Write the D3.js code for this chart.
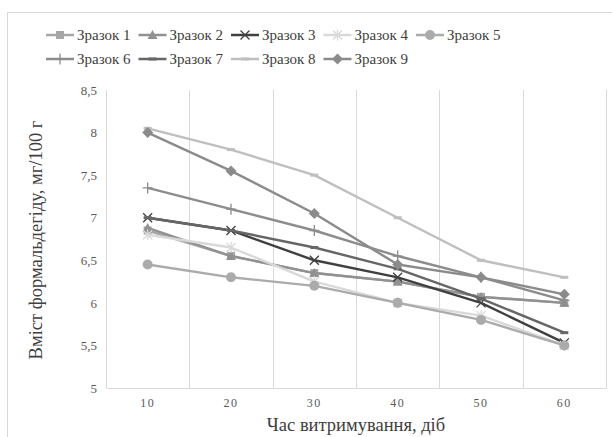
<!DOCTYPE html>
<html>
<head>
<meta charset="utf-8">
<script src="https://cdn.jsdelivr.net/npm/d3@7"></script>
<style>
  html, body { margin: 0; padding: 0; background: #fff; }
</style>
</head>
<body>
<svg id="chart" width="612" height="437"></svg>
<script>
// Storage time (days)
const categories = [10, 20, 30, 40, 50, 60];
const seriesNames = ["Зразок 1", "Зразок 2", "Зразок 3", "Зразок 4", "Зразок 5",
                     "Зразок 6", "Зразок 7", "Зразок 8", "Зразок 9"];
// Formaldehyde content, mg/100 g
const sample1 = [6.85, 6.55, 6.35, 6.25, 6.07, 6.0];
const sample2 = [6.88, 6.55, 6.35, 6.25, 6.07, 6.0];
const sample3 = [7.0, 6.85, 6.5, 6.3, 6.0, 5.53];
const sample4 = [6.8, 6.65, 6.25, 6.0, 5.85, 5.5];
const sample5 = [6.45, 6.3, 6.2, 6.0, 5.8, 5.5];
const sample6 = [7.35, 7.1, 6.85, 6.55, 6.3, 6.03];
const sample7 = [7.0, 6.85, 6.65, 6.4, 6.05, 5.65];
const sample8 = [8.05, 7.8, 7.5, 7.0, 6.5, 6.3];
const sample9 = [8.0, 7.55, 7.05, 6.45, 6.3, 6.1];
const yTicks = [5, 5.5, 6, 6.5, 7, 7.5, 8, 8.5];

const seriesValues = [sample1, sample2, sample3, sample4, sample5, sample6, sample7, sample8, sample9];
const colors = ["#a6a6a6", "#919191", "#404040", "#d9d9d9", "#ababab",
                "#8c8c8c", "#666666", "#bfbfbf", "#8b8b8b"];
const markers = ["square", "triangle", "x", "star", "circle", "plus", "dash", "dash", "diamond"];
const FONT = '"Liberation Serif"';

const svg = d3.select("#chart");

// chart frame
svg.append("rect").attr("x", 7.5).attr("y", 12.5).attr("width", 620).attr("height", 440)
  .attr("fill", "none").attr("stroke", "#d9d9d9").attr("stroke-width", 1);

const x = d3.scaleBand().domain(categories).range([106, 606]);
const y = d3.scaleLinear().domain([5, 8.5]).range([388, 90]);
const cx = d => x(d) + x.bandwidth() / 2;

// vertical gridlines at category boundaries
const bounds = categories.map(c => x(c)).concat([x.range()[1]]);
svg.append("g").selectAll("line").data(bounds).join("line")
  .attr("x1", d => Math.round(d) + 0.5).attr("x2", d => Math.round(d) + 0.5)
  .attr("y1", y(8.5)).attr("y2", y(5))
  .attr("stroke", "#d9d9d9").attr("stroke-width", 1);

// x axis
const xAxis = svg.append("g").attr("transform", `translate(0,${y(5)})`)
  .call(d3.axisBottom(x).tickSize(0).tickPadding(10));
xAxis.attr("font-family", null).attr("font-size", null);
xAxis.select(".domain").attr("stroke", "#d9d9d9");
xAxis.selectAll("text").style("font-family", FONT).style("font-size", "12px")
  .attr("fill", "#595959").style("letter-spacing", "1.5px");

// y axis
const fmt = v => Number.isInteger(v) ? String(v) : String(v).replace(".", ",");
const yAxis = svg.append("g").attr("transform", `translate(106,0)`)
  .call(d3.axisLeft(y).tickValues(yTicks).tickFormat(fmt).tickSize(0).tickPadding(9));
yAxis.attr("font-family", null).attr("font-size", null);
yAxis.select(".domain").remove();
yAxis.selectAll("text").style("font-family", FONT).style("font-size", "13px").attr("fill", "#595959");

// axis titles
svg.append("text").attr("x", 356).attr("y", 431).attr("text-anchor", "middle")
  .style("font-family", FONT).style("font-size", "18.5px").attr("fill", "#404040")
  .text("Час витримування, діб");
svg.append("text").attr("transform", "translate(42,240) rotate(-90)")
  .attr("text-anchor", "middle").style("font-family", FONT).style("font-size", "18.5px")
  .attr("fill", "#404040").text("Вміст формальдегіду, мг/100 г");

// marker drawing
function drawMarker(g, type, color, px, py) {
  const s = 4.5;
  switch (type) {
    case "square":
      g.append("rect").attr("x", px - 4).attr("y", py - 4).attr("width", 8).attr("height", 8).attr("fill", color);
      break;
    case "triangle":
      g.append("path").attr("d", `M${px},${py - 5}L${px + 5},${py + 4}L${px - 5},${py + 4}Z`).attr("fill", color);
      break;
    case "x":
      g.append("path").attr("d", `M${px - s},${py - s}L${px + s},${py + s}M${px - s},${py + s}L${px + s},${py - s}`)
        .attr("stroke", color).attr("stroke-width", 1.3).attr("fill", "none");
      break;
    case "star":
      g.append("path").attr("d", `M${px - s},${py - s}L${px + s},${py + s}M${px - s},${py + s}L${px + s},${py - s}M${px},${py - 5.5}L${px},${py + 5.5}`)
        .attr("stroke", color).attr("stroke-width", 1.3).attr("fill", "none");
      break;
    case "circle":
      g.append("circle").attr("cx", px).attr("cy", py).attr("r", 5).attr("fill", color);
      break;
    case "plus":
      g.append("path").attr("d", `M${px - 5},${py}L${px + 5},${py}M${px},${py - 5.5}L${px},${py + 5.5}`)
        .attr("stroke", color).attr("stroke-width", 1.3).attr("fill", "none");
      break;
    case "dash":
      g.append("rect").attr("x", px - 4).attr("y", py - 1.5).attr("width", 8).attr("height", 3).attr("fill", color);
      break;
    case "diamond":
      g.append("path").attr("d", `M${px},${py - 5.5}L${px + 5.5},${py}L${px},${py + 5.5}L${px - 5.5},${py}Z`).attr("fill", color);
      break;
  }
}

// series lines and markers
const line = d3.line().x((d, i) => cx(categories[i])).y(d => y(d));
seriesValues.forEach((vals, k) => {
  const g = svg.append("g");
  g.append("path").datum(vals).attr("d", line).attr("fill", "none")
    .attr("stroke", colors[k]).attr("stroke-width", 2.4).attr("stroke-linejoin", "round");
  vals.forEach((v, i) => drawMarker(g, markers[k], colors[k], cx(categories[i]), y(v)));
});

// legend
const legend = svg.append("g");
seriesNames.forEach((name, k) => {
  const row = k < 5 ? 0 : 1;
  const col = k < 5 ? k : k - 5;
  const lx = 46 + col * 92.5;
  const ly = row === 0 ? 35 : 59;
  const g = legend.append("g");
  g.append("line").attr("x1", lx).attr("x2", lx + 28).attr("y1", ly).attr("y2", ly)
    .attr("stroke", colors[k]).attr("stroke-width", 2.5);
  drawMarker(g, markers[k], colors[k], lx + 14, ly);
  g.append("text").attr("x", lx + 31).attr("y", ly + 5)
    .style("font-family", FONT).style("font-size", "15px")
    .attr("fill", "#404040").text(name);
});
</script>
</body>
</html>
